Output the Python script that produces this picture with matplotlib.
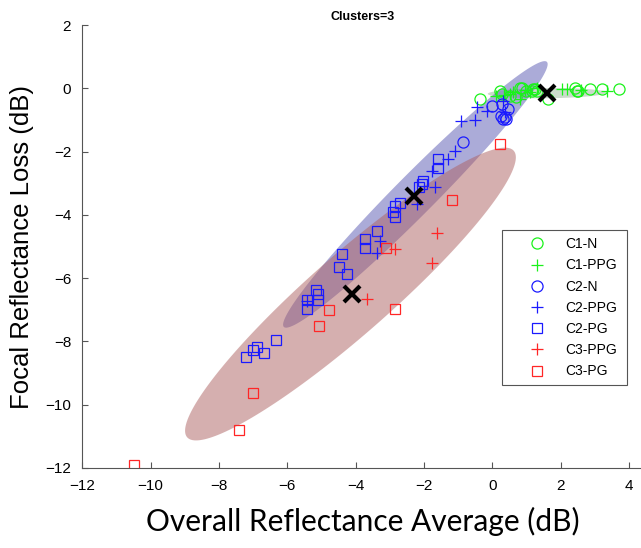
import matplotlib
matplotlib.use('Agg')
import matplotlib.pyplot as plt
from matplotlib.patches import Polygon
import numpy as np

plt.rcParams['font.family'] = ['Liberation Sans', 'DejaVu Sans']

# cluster members
c1_n_x = [-0.36, 0.23, 0.28, 0.52, 0.71, 0.81, 0.86, 1.0, 1.15, 1.2, 1.25, 1.3, 1.64, 2.42, 2.47, 2.52, 2.86, 3.2, 3.71]
c1_n_y = [-0.34, -0.07, -0.18, -0.23, -0.28, 0.03, 0.03, -0.07, -0.07, -0.02, -0.02, -0.07, -0.34, 0.03, -0.07, -0.07, -0.02, -0.02, -0.02]
c1_ppg_x = [0.1, 0.35, 0.52, 0.62, 0.81, 0.95, 1.1, 1.3, 2.03, 2.2, 2.6, 3.35]
c1_ppg_y = [-0.25, -0.2, -0.18, -0.1, -0.34, -0.05, -0.1, 0.0, -0.02, -0.02, -0.05, -0.07]
c2_n_x = [-0.85, 0.0, 0.28, 0.47, 0.25, 0.32, 0.4, 0.38]
c2_n_y = [-1.7, -0.55, -0.5, -0.65, -0.88, -0.95, -0.98, -0.9]
c2_ppg_x = [0.32, 0.37, -0.16, -0.46, -0.51, -0.9, -1.09, -1.29, -1.75, -1.68, -2.21, -3.29, -3.38, -5.43]
c2_ppg_y = [-0.39, -0.76, -0.7, -0.6, -1.0, -1.02, -1.97, -2.23, -2.62, -3.13, -3.66, -4.82, -5.19, -6.72]
c2_pg_x = [-1.58, -1.58, -2.02, -2.07, -2.15, -2.7, -2.85, -2.9, -2.85, -3.38, -3.73, -3.73, -4.41, -4.48,
           -4.26, -5.16, -5.1, -5.09, -5.43, -5.43, -6.33, -6.9, -7.01, -6.68, -7.21]
c2_pg_y = [-2.23, -2.5, -2.92, -3.03, -3.1, -3.61, -3.71, -3.92, -4.06, -4.5, -4.77, -5.03, -5.24, -5.63,
           -5.87, -6.38, -6.5, -6.7, -6.7, -6.98, -7.96, -8.17, -8.28, -8.37, -8.49]
c3_ppg_x = [-1.61, -1.76, -2.85, -3.68]
c3_ppg_y = [-4.57, -5.52, -5.08, -6.67]
c3_pg_x = [0.23, -1.17, -3.11, -2.85, -4.77, -5.06, -6.99, -7.4, -10.48]
c3_pg_y = [-1.76, -3.53, -5.03, -6.98, -7.01, -7.51, -9.62, -10.8, -11.92]

centers_x = [1.6, -2.3, -4.1]
centers_y = [-0.13, -3.4, -6.5]

# ellipse: center, major half-vector, minor half-vector (data units)
ell_centers = [(1.6, -0.15), (-2.25, -3.35), (-4.15, -6.5)]
ell_major = [(1.73, 0.02), (3.85, 4.19), (4.78, 4.53)]
ell_minor = [(0.0, 0.16), (0.415, -0.446), (0.77, -0.95)]
ell_colors = [(0.55, 0.68, 0.55), (0.4, 0.4, 0.72), (0.68, 0.38, 0.38)]
ell_alpha = [0.45, 0.55, 0.5]

fig = plt.figure(figsize=(6.41, 5.48), dpi=100)
ax = fig.add_axes([0.1284, 0.146, 0.874, 0.808])

t = np.linspace(0, 2 * np.pi, 200)
for c, a, b, col, al in zip(ell_centers, ell_major, ell_minor, ell_colors, ell_alpha):
    xs = c[0] + a[0] * np.cos(t) + b[0] * np.sin(t)
    ys = c[1] + a[1] * np.cos(t) + b[1] * np.sin(t)
    ax.add_patch(Polygon(np.column_stack([xs, ys]), closed=True, facecolor=col,
                         alpha=al, edgecolor='none', zorder=1))

green = (0.1, 0.95, 0.1)
blue = (0.1, 0.1, 1.0)
red = (1.0, 0.15, 0.15)
ax.plot(c1_n_x, c1_n_y, 'o', mfc='none', mec=green, ms=8, mew=0.9, ls='none', label='C1-N')
ax.plot(c1_ppg_x, c1_ppg_y, '+', color=green, ms=8, mew=0.9, ls='none', label='C1-PPG')
ax.plot(c2_n_x, c2_n_y, 'o', mfc='none', mec=blue, ms=8, mew=0.9, ls='none', label='C2-N')
ax.plot(c2_ppg_x, c2_ppg_y, '+', color=blue, ms=8, mew=0.9, ls='none', label='C2-PPG')
ax.plot(c2_pg_x, c2_pg_y, 's', mfc='none', mec=blue, ms=6.5, mew=0.9, ls='none', label='C2-PG')
ax.plot(c3_ppg_x, c3_ppg_y, '+', color=red, ms=8, mew=0.9, ls='none', label='C3-PPG')
ax.plot(c3_pg_x, c3_pg_y, 's', mfc='none', mec=red, ms=6.5, mew=0.9, ls='none', label='C3-PG')
ax.plot(centers_x, centers_y, 'x', color='black', ms=11, mew=3, ls='none', zorder=5)

ax.set_xlim(-12, 4.4)
ax.set_ylim(-12, 2)
ax.set_xticks(np.arange(-12, 5, 2))
ax.set_yticks(np.arange(-12, 3, 2))
ax.spines['top'].set_visible(False)
ax.spines['right'].set_visible(False)
for s in ['left', 'bottom']:
    ax.spines[s].set_color('#555555')
    ax.spines[s].set_linewidth(0.8)
ax.tick_params(direction='in', length=4, width=0.8, color='#555555', labelsize=11, pad=8)

ax.set_title('Clusters=3', fontsize=9, fontweight='bold', pad=4)
ax.set_xlabel('Overall Reflectance Average (dB)', fontsize=21.5, family=['Lato', 'DejaVu Sans'], labelpad=10)
ax.set_ylabel('Focal Reflectance Loss (dB)', fontsize=18.5, labelpad=8)

leg = ax.legend(loc='upper left', bbox_to_anchor=(0.75, 0.537 - 0.35, 0.223, 0.35), mode='expand',
                borderaxespad=0, fontsize=10, labelspacing=0.52, handlelength=4.0, handletextpad=0.05,
                borderpad=0.5, fancybox=False, framealpha=1)
leg.get_frame().set_edgecolor('#555555')
leg.get_frame().set_linewidth(0.8)

fig.savefig('out.png', dpi=100)
